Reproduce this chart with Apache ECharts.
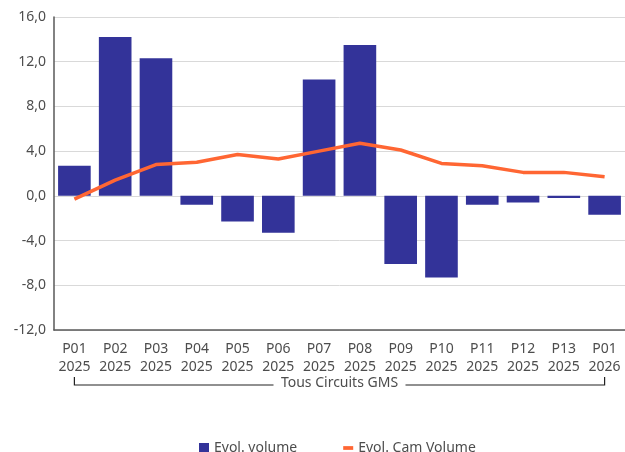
<!DOCTYPE html>
<html>
<head>
<meta charset="utf-8">
<script src="https://cdn.jsdelivr.net/npm/echarts@6/dist/echarts.min.js"></script>
<style>
  html, body { margin: 0; padding: 0; background: #fff; }
  #chart { width: 625px; height: 452px; }
</style>
</head>
<body>
<div id="chart"></div>
<script>
// data
const periods = ['P01', 'P02', 'P03', 'P04', 'P05', 'P06', 'P07', 'P08', 'P09', 'P10', 'P11', 'P12', 'P13', 'P01'];
const years = ['2025', '2025', '2025', '2025', '2025', '2025', '2025', '2025', '2025', '2025', '2025', '2025', '2025', '2026'];
const evolVolume = [2.7, 14.2, 12.3, -0.8, -2.3, -3.3, 10.4, 13.5, -6.1, -7.3, -0.8, -0.6, -0.2, -1.7];
const evolCamVolume = [-0.3, 1.4, 2.8, 3.0, 3.7, 3.3, 4.0, 4.7, 4.1, 2.9, 2.7, 2.1, 2.1, 1.7];
const groupLabel = 'Tous Circuits GMS';

const categories = periods.map((p, i) => p + '\n' + years[i]);
const font = 'Noto Sans';
const textColor = '#4d4d4d';

const chart = echarts.init(document.getElementById('chart'));

chart.setOption({
    animation: false,
    textStyle: { fontFamily: font },
    grid: { left: 54, right: 0, top: 17, bottom: 122 },
    legend: {
        left: 194,
        top: 436,
        itemWidth: 10,
        itemHeight: 10,
        itemGap: 46,
        textStyle: { fontFamily: font, fontSize: 14, color: textColor },
        data: [
            { name: 'Evol. volume', icon: 'rect' },
            { name: 'Evol. Cam Volume', icon: 'path://M0,0h8v3h-8z' }
        ]
    },
    xAxis: {
        type: 'category',
        data: categories,
        axisLine: { onZero: false, lineStyle: { color: '#595959', width: 1.5 } },
        axisTick: { show: false },
        axisLabel: {
            interval: 0,
            margin: 10,
            fontFamily: font,
            fontSize: 14,
            lineHeight: 18,
            color: textColor
        }
    },
    yAxis: {
        type: 'value',
        min: -12,
        max: 16,
        interval: 4,
        axisLine: { show: true, lineStyle: { color: '#595959', width: 1.5 } },
        axisTick: { show: false },
        splitLine: { lineStyle: { color: '#d9d9d9', width: 1 } },
        axisLabel: {
            margin: 8,
            fontFamily: font,
            fontSize: 14,
            color: textColor,
            formatter: v => v.toFixed(1).replace('.', ',')
        }
    },
    series: [
        {
            name: 'Evol. volume',
            type: 'bar',
            data: evolVolume,
            barCategoryGap: '20%',
            itemStyle: { color: '#333399' }
        },
        {
            name: 'Evol. Cam Volume',
            type: 'line',
            data: evolCamVolume,
            showSymbol: false,
            symbol: 'none',
            lineStyle: { color: '#ff6633', width: 3.5 },
            itemStyle: { color: '#ff6633' }
        }
    ]
});

// bracket under the axis labels, placed from the category positions
const first = chart.convertToPixel({ xAxisIndex: 0 }, 0);
const last = chart.convertToPixel({ xAxisIndex: 0 }, categories.length - 1);
const axisY = chart.convertToPixel({ yAxisIndex: 0 }, -12);
const mid = (first + last) / 2;
const half = 66;
const topY = axisY + 47;
const lineY = axisY + 55;

chart.setOption({
    graphic: [
        {
            type: 'polyline',
            shape: { points: [[first, topY], [first, lineY], [mid - half, lineY]] },
            style: { stroke: '#222', lineWidth: 1.2, fill: null }
        },
        {
            type: 'polyline',
            shape: { points: [[mid + half, lineY], [last, lineY], [last, topY]] },
            style: { stroke: '#222', lineWidth: 1.2, fill: null }
        },
        {
            type: 'text',
            x: mid,
            y: lineY - 2,
            style: {
                text: groupLabel,
                fontFamily: font,
                fontSize: 14,
                fill: textColor,
                align: 'center',
                verticalAlign: 'middle'
            }
        }
    ]
});
</script>
</body>
</html>
